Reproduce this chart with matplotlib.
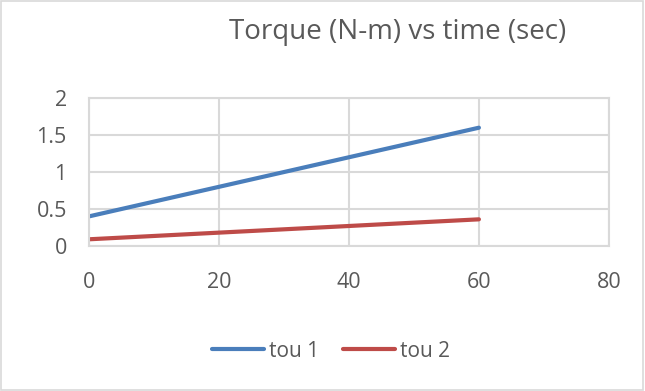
import matplotlib
matplotlib.use("Agg")
from matplotlib import pyplot as plt
from matplotlib.lines import Line2D

# data
time_sec = [0, 20, 40, 60]
tou_1 = [0.4, 0.8, 1.2, 1.6]
tou_2 = [0.09, 0.18, 0.27, 0.36]

x_ticks = [0, 20, 40, 60, 80]
y_ticks = [0, 0.5, 1, 1.5, 2]
y_tick_labels = ["0", "0.5", "1", "1.5", "2"]

plt.rcParams['font.family'] = ['Open Sans', 'DejaVu Sans']
text_col = "#595959"
grid_col = "#d9d9d9"

fig = plt.figure(figsize=(6.45, 3.91), dpi=100)
fig.patch.set_facecolor("white")
# outer chart border
fig.add_artist(plt.Rectangle((0.002, 0.003), 0.995, 0.994, transform=fig.transFigure,
                             fill=False, edgecolor=grid_col, linewidth=1.2))

ax = fig.add_axes([0.138, 0.371, 0.806, 0.378])
ax.plot(time_sec, tou_1, color="#4a7ebb", linewidth=3, solid_capstyle="round", label="tou 1")
ax.plot(time_sec, tou_2, color="#be4b48", linewidth=3, solid_capstyle="round", label="tou 2")

ax.set_xlim(0, 80)
ax.set_ylim(0, 2)
ax.set_xticks(x_ticks)
ax.set_yticks(y_ticks)
ax.set_yticklabels(y_tick_labels)
ax.grid(True, color=grid_col, linewidth=1.5)
ax.set_axisbelow(True)
for sp in ax.spines.values():
    sp.set_color(grid_col)
    sp.set_linewidth(1.5)
ax.tick_params(length=0, labelsize=15.5, colors=text_col)
ax.tick_params(axis="x", pad=19)
ax.tick_params(axis="y", pad=16)

fig.text(0.617, 0.900, "Torque (N-m) vs time (sec)", ha="center", va="baseline",
         fontsize=20, color=text_col)

handles = [Line2D([0], [0], color="#4a7ebb", linewidth=3, solid_capstyle="round"),
           Line2D([0], [0], color="#be4b48", linewidth=3, solid_capstyle="round")]
fig.legend(handles, ["tou 1", "tou 2"], loc="center", bbox_to_anchor=(0.513, 0.102),
           ncol=2, frameon=False, fontsize=15, labelcolor=text_col,
           handlelength=2.5, handletextpad=0.25, columnspacing=1.15)

fig.savefig("out.png", dpi=100)
